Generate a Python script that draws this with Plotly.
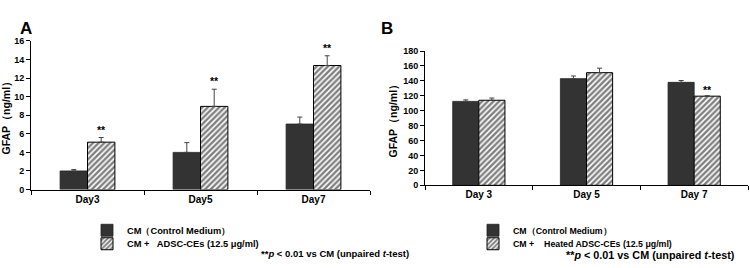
import plotly.graph_objects as go

# ---- data ----
days_a = ["Day3", "Day5", "Day7"]
cm_a = [2.0, 4.0, 7.05]
cm_a_err = [0.15, 1.05, 0.75]
adsc_a = [5.1, 8.95, 13.35]
adsc_a_err = [0.5, 1.85, 1.05]
sig_a = ["**", "**", "**"]

days_b = ["Day 3", "Day 5", "Day 7"]
cm_b = [112.5, 143.0, 138.0]
cm_b_err = [2.0, 3.5, 2.5]
heat_b = [114.0, 151.0, 119.5]
heat_b_err = [3.0, 6.0, 0.5]
sig_b = ["", "", "**"]

yticks_a = [0, 2, 4, 6, 8, 10, 12, 14, 16]
yticks_b = [0, 20, 40, 60, 80, 100, 120, 140, 160, 180]

names_a = ["CM（Control Medium）", "CM +   ADSC-CEs (12.5 μg/ml)"]
names_b = ["CM（Control Medium）", "CM +    Heated ADSC-CEs (12.5 μg/ml)"]
footnote = "**<i>p</i> < 0.01 vs CM (unpaired <i>t</i>-test)"

FONT = "Arial, Liberation Sans, sans-serif"
DARK = "#333333"

fig = go.Figure()

def add_pair(x, v1, e1, v2, e2, names, xa, ya, legs):
    fig.add_trace(go.Bar(
        x=x, y=v1, name=names[0], xaxis=xa, yaxis=ya, legend=legs[0],
        marker=dict(color=DARK, line=dict(color="#222222", width=0.8)),
        error_y=dict(type="data", symmetric=False, array=e1, arrayminus=[0] * len(e1),
                     color="#444444", thickness=1, width=2.5),
    ))
    fig.add_trace(go.Bar(
        x=x, y=v2, name=names[1], xaxis=xa, yaxis=ya, legend=legs[1],
        marker=dict(color="white", line=dict(color="black", width=1),
                    pattern=dict(shape="/", fgcolor="black", bgcolor="white",
                                 size=4, solidity=0.6)),
        error_y=dict(type="data", symmetric=False, array=e2, arrayminus=[0] * len(e2),
                     color="#444444", thickness=1, width=2.5),
    ))

add_pair(days_a, cm_a, cm_a_err, adsc_a, adsc_a_err, names_a, "x", "y", ["legend", "legend2"])
add_pair(days_b, cm_b, cm_b_err, heat_b, heat_b_err, names_b, "x2", "y2", ["legend3", "legend4"])

tickfont = dict(family=FONT, size=9, color="black", weight="bold")

axis_common = dict(showline=True, linecolor="black", linewidth=1, ticks="outside",
                   ticklen=4, tickcolor="black", showgrid=False, zeroline=False,
                   tickfont=tickfont)

def leg(xpx, ypx, size):
    return dict(x=xpx / 750, y=1 - ypx / 268, xanchor="left", yanchor="middle",
                font=dict(size=size, weight="bold"), itemwidth=30,
                bgcolor="rgba(0,0,0,0)", borderwidth=0)

ytitle = dict(text="GFAP（ng/ml）", font=dict(size=10.5, weight="bold"), standoff=3)

fig.update_layout(
    width=750, height=268, margin=dict(l=0, r=0, t=0, b=0),
    paper_bgcolor="white", plot_bgcolor="white",
    barmode="group",
    font=dict(family=FONT, color="black"),
    xaxis=dict(domain=[31 / 750, 370 / 750], anchor="y", tickson="boundaries",
               **axis_common, tickfont_size=10),
    yaxis=dict(domain=[1 - 191.7 / 268, 1 - 37.3 / 268], anchor="x", range=[0, 16],
               tickvals=yticks_a, title=ytitle, **axis_common),
    xaxis2=dict(domain=[425 / 750, 748 / 750], anchor="y2", tickson="boundaries",
                **axis_common, tickfont_size=10),
    yaxis2=dict(domain=[1 - 187.3 / 268, 1 - 47.8 / 268], anchor="x2", range=[0, 180],
                tickvals=yticks_b, title=ytitle, **axis_common),
    bargap=0.515,
    bargroupgap=0,
    legend=leg(87, 234, 9.3),
    legend2=leg(87, 248, 9.3),
    legend3=leg(473, 234, 8.8),
    legend4=leg(473, 248, 8.8),
    showlegend=True,
)

ann = []
for xi, v, e, s in zip(days_a, adsc_a, adsc_a_err, sig_a):
    if s:
        ann.append(dict(x=xi, y=v + e, xref="x", yref="y", text=s, showarrow=False,
                        xshift=14, yshift=8, font=dict(size=10.5, weight="bold")))
for xi, v, e, s in zip(days_b, heat_b, heat_b_err, sig_b):
    if s:
        ann.append(dict(x=xi, y=v + e, xref="x2", yref="y2", text=s, showarrow=False,
                        xshift=13, yshift=6, font=dict(size=10.5, weight="bold")))
ann.append(dict(x=18 / 750, y=1 - 12 / 268, xref="paper", yref="paper", text="A",
                showarrow=False, font=dict(size=17, weight="bold")))
ann.append(dict(x=387 / 750, y=1 - 12 / 268, xref="paper", yref="paper", text="B",
                showarrow=False, font=dict(size=17, weight="bold")))
ann.append(dict(x=259 / 750, y=1 - 258 / 268, xref="paper", yref="paper", text=footnote,
                xanchor="left", yanchor="middle", showarrow=False,
                font=dict(size=9.5, weight="bold")))
ann.append(dict(x=564 / 750, y=1 - 260 / 268, xref="paper", yref="paper", text=footnote,
                xanchor="left", yanchor="middle", showarrow=False,
                font=dict(size=10.8, weight="bold")))
fig.update_layout(annotations=ann)

fig.write_html("out.html")
